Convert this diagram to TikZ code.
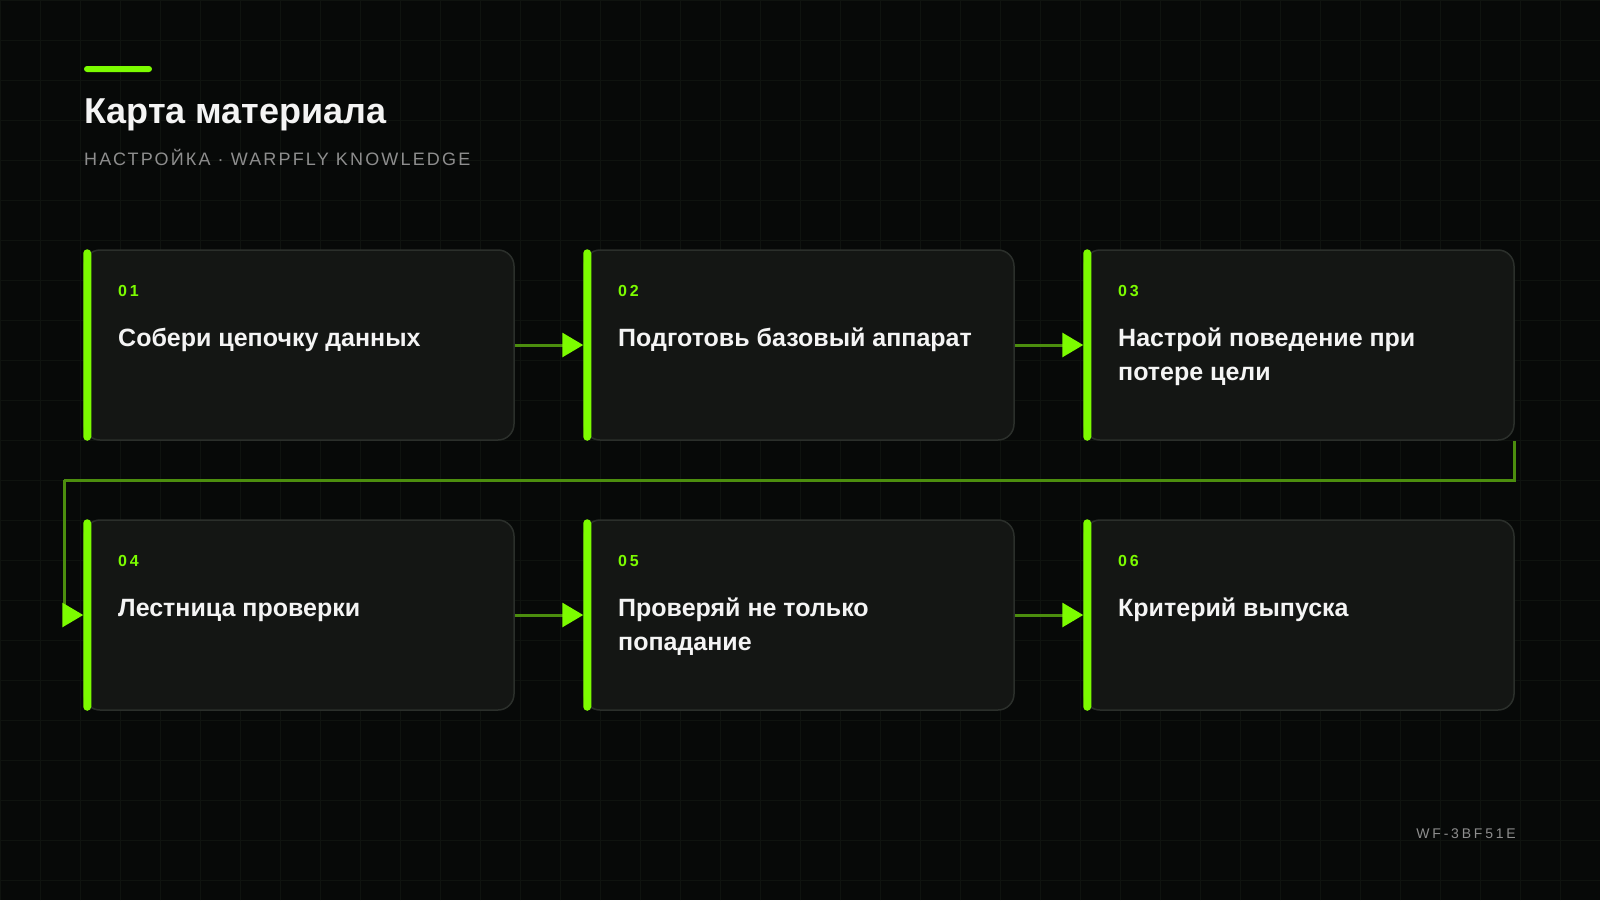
\documentclass[tikz,border=0pt]{standalone}
\usepackage{fontspec}
\setmainfont{Liberation Sans}
\newfontfamily\trackfont[LetterSpace=12]{Liberation Sans}
\newfontfamily\numfont[LetterSpace=18]{Liberation Sans}
\newfontfamily\codefont[LetterSpace=20]{Liberation Sans}
\usepackage{tikz}
\usetikzlibrary{arrows.meta}

\definecolor{bgdark}{HTML}{070908}
\definecolor{gridline}{HTML}{0F130F}
\definecolor{cardfill}{HTML}{141614}
\definecolor{cardedge}{HTML}{2B2F2B}
\definecolor{lime}{HTML}{7CFC00}
\definecolor{limedim}{HTML}{4C8E0E}
\definecolor{greytext}{HTML}{8E8E8E}
\definecolor{whitetext}{HTML}{F4F4F4}

\begin{document}
\begin{tikzpicture}[x=1pt,y=-1pt,
	card/.style={draw=cardedge,line width=1.5pt,fill=cardfill,rounded corners=16pt,
		minimum width=430pt,minimum height=190pt,inner sep=0pt},
	bar/.style={fill=lime,rounded corners=4pt},
	num/.style={anchor=base west,inner sep=0pt,text=lime,font=\numfont\bfseries\fontsize{16}{19}\selectfont},
	cardtext/.style={anchor=base west,inner sep=0pt,align=left,text=whitetext,font=\bfseries\fontsize{25}{34}\selectfont},
	flow/.style={draw=limedim,line width=3pt,-{Triangle[length=21pt,width=24pt,color=lime]}}]

	\useasboundingbox (0,0) rectangle (1600,900);
	\fill[bgdark] (0,0) rectangle (1600,900);
	\draw[step=40pt, gridline, line width=1pt] (0,0) grid (1600,900);

	% header
	\fill[lime,rounded corners=3pt] (84,66) rectangle (152,72);
	\node[anchor=base west,inner sep=0pt,text=whitetext,font=\bfseries\fontsize{36}{43}\selectfont] (title) at (84,123) {Карта материала};
	\node[anchor=base west,inner sep=0pt,text=greytext,font=\trackfont\fontsize{18}{22}\selectfont] (subtitle) at (84,165) {НАСТРОЙКА · WARPFLY KNOWLEDGE};

	% cards
	\node[card] (c1) at (299,345)  {};
	\node[card] (c2) at (799,345)  {};
	\node[card] (c3) at (1299,345) {};
	\node[card] (c4) at (299,615)  {};
	\node[card] (c5) at (799,615)  {};
	\node[card] (c6) at (1299,615) {};

	\fill[bar] (c1.north west) rectangle ([xshift=8pt]c1.south west);
	\fill[bar] (c2.north west) rectangle ([xshift=8pt]c2.south west);
	\fill[bar] (c3.north west) rectangle ([xshift=8pt]c3.south west);
	\fill[bar] (c4.north west) rectangle ([xshift=8pt]c4.south west);
	\fill[bar] (c5.north west) rectangle ([xshift=8pt]c5.south west);
	\fill[bar] (c6.north west) rectangle ([xshift=8pt]c6.south west);

	\node[num] (n1) at (118,296)  {01};
	\node[num] (n2) at (618,296)  {02};
	\node[num] (n3) at (1118,296) {03};
	\node[num] (n4) at (118,566)  {04};
	\node[num] (n5) at (618,566)  {05};
	\node[num] (n6) at (1118,566) {06};

	% two-line texts sit on the baseline of their last line
	\node[cardtext] (t1) at (118,346)  {Собери цепочку данных};
	\node[cardtext] (t2) at (618,346)  {Подготовь базовый аппарат};
	\node[cardtext] (t3) at (1118,380) {Настрой поведение при\\потере цели};
	\node[cardtext] (t4) at (118,616)  {Лестница проверки};
	\node[cardtext] (t5) at (618,650)  {Проверяй не только\\попадание};
	\node[cardtext] (t6) at (1118,616) {Критерий выпуска};

	% connectors
	\coordinate (turn) at (64,480);
	\draw[flow] (c1.east) -- (c2.west);
	\draw[flow] (c2.east) -- (c3.west);
	\draw[flow,-] (c3.south east) |- (turn);
	\draw[flow] (turn) |- (c4.west);
	\draw[flow] (c4.east) -- (c5.west);
	\draw[flow] (c5.east) -- (c6.west);

	% footer
	\node[anchor=base east,inner sep=0pt,text=greytext,font=\codefont\fontsize{14}{17}\selectfont] (code) at (1516,838) {WF-3BF51E};
\end{tikzpicture}
\end{document}
